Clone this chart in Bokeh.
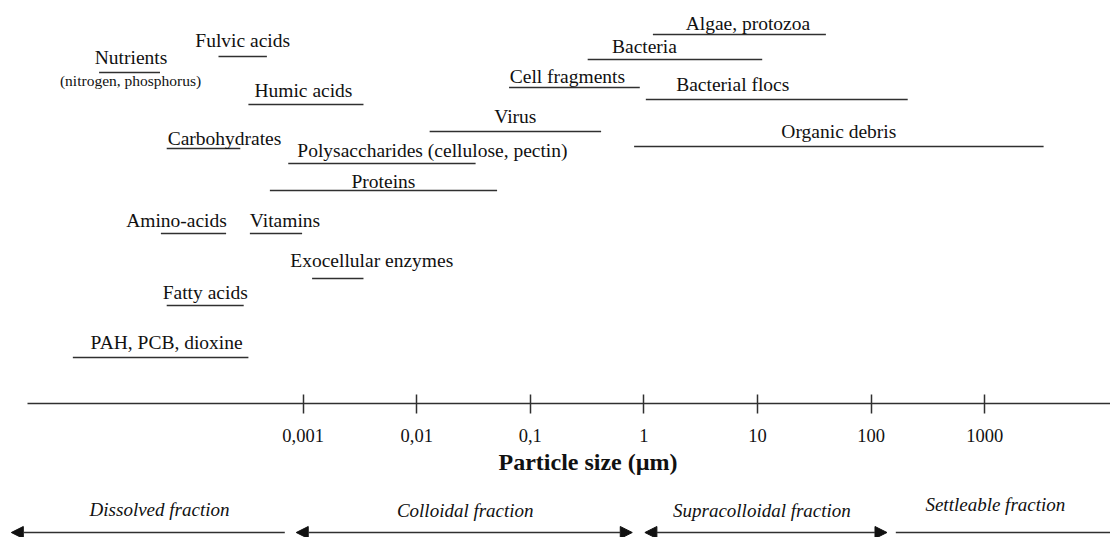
import numpy as np
from bokeh.plotting import figure
from bokeh.models import (ColumnDataSource, Range1d, FixedTicker, Arrow, NormalHead,
                          Title, CustomJSTickFormatter)
from bokeh.core.properties import value
from bokeh.layouts import column
from bokeh.embed import file_html
from bokeh.resources import INLINE

# ---------------- data ----------------
names = ["Algae, protozoa", "Bacteria", "Cell fragments", "Bacterial flocs", "Virus",
         "Organic debris", "Fulvic acids", "Nutrients", "Humic acids", "Carbohydrates",
         "Polysaccharides (cellulose, pectin)", "Proteins", "Amino-acids", "Vitamins",
         "Exocellular enzymes", "Fatty acids", "PAH, PCB, dioxine"]
size_min = [1.2, 0.32, 0.065, 1.04, 0.013, 0.82, 1.8e-4, 1.6e-5, 3.3e-4, 6.3e-5,
            7.4e-4, 5.1e-4, 5.6e-5, 3.4e-4, 1.2e-3, 6.3e-5, 9.4e-6]   # µm
size_max = [40, 11, 0.92, 210, 0.42, 3300, 4.8e-4, 5.5e-5, 3.4e-3, 2.8e-4,
            0.033, 0.051, 2.1e-4, 9.8e-4, 3.4e-3, 3.0e-4, 3.3e-4]     # µm
sub_label = "(nitrogen, phosphorus)"

tick_values = [0.001, 0.01, 0.1, 1, 10, 100, 1000]

fractions = ["Dissolved fraction", "Colloidal fraction", "Supracolloidal fraction",
             "Settleable fraction"]
frac_min = [2.7e-6, 8.7e-4, 1.02, 165]
frac_max = [6.9e-4, 0.79, 138, 14000]

# ---------------- layout (positions / styles) ----------------
row_y = [34, 59, 87, 99, 131, 146, 56, 72, 104, 148, 163, 190, 233, 233, 278, 305, 357]
label_baseline = [29.5, 53, 83, 91, 123, 138, 47, 64, 97, 145, 157, 188, 227, 227,
                  267, 299, 348.5]
label_dx = [8.5, -30.5, -7, -44, 0, 0, 0, 1.5, -2.5, 21, 50.5, 0, -17, 9, 34, 0, 6]
frac_heads = ["start", "both", "both", "none"]
frac_label_dx = [11.5, 1, -4, -10]
frac_label_baseline = [516, 517, 517, 511]
BASELINE_FIX = 7          # renderer draws alphabetic baseline this much lower

PX_PER_DECADE = 113.6
X_ONE = 643.4


def um_at(px):
    return 10 ** ((px - X_ONE) / PX_PER_DECADE)


FONT = "Liberation Serif"
TXT = "#111111"
LINE = "#303030"

# ---------------- top figure ----------------
top = figure(width=1110, height=483, x_axis_type="log",
             x_range=Range1d(um_at(27), um_at(1110)), y_range=Range1d(403, 0),
             output_backend="svg", toolbar_location=None, y_axis_location=None,
             min_border_left=27, min_border_right=0, min_border_top=0,
             min_border_bottom=80, frame_align=False)
top.outline_line_color = None
top.xgrid.visible = False
top.ygrid.visible = False
top.background_fill_color = "white"

mid = [np.sqrt(a * b) for a, b in zip(size_min, size_max)]
src = ColumnDataSource(dict(name=names, x0=size_min, x1=size_max, y=row_y, mid=mid,
                            ly=[b - BASELINE_FIX for b in label_baseline], dx=label_dx))
top.segment(x0="x0", y0="y", x1="x1", y1="y", source=src, line_width=1.6,
            line_color=LINE)
top.text(x="mid", y="ly", text="name", x_offset="dx", source=src,
         text_font=value(FONT), text_font_size="19.5px", text_color=TXT,
         text_align="center", text_baseline="alphabetic")

i_nut = names.index("Nutrients")
sub = ColumnDataSource(dict(x=[mid[i_nut]], y=[87 - BASELINE_FIX], t=[sub_label]))
top.text(x="x", y="y", text="t", x_offset=1, source=sub, text_font=value(FONT),
         text_font_size="15.5px", text_color=TXT, text_align="center",
         text_baseline="alphabetic")

ax = top.xaxis[0]
ax.ticker = FixedTicker(ticks=tick_values, minor_ticks=[])
ax.formatter = CustomJSTickFormatter(code="return String(tick).replace('.', ',');")
ax.major_tick_in = 9
ax.major_tick_out = 10
ax.minor_tick_line_color = None
ax.axis_line_width = 1.5
ax.axis_line_color = LINE
ax.major_tick_line_width = 1.5
ax.major_tick_line_color = LINE
ax.major_label_text_font = FONT
ax.major_label_text_font_size = "18.5px"
ax.major_label_text_color = TXT
ax.major_label_standoff = 15

top.add_layout(Title(text="Particle size  (µm)", align="left", offset=471,
                     text_font=FONT, text_font_size="24px", text_font_style="bold",
                     text_color=TXT, standoff=4), "below")

# ---------------- bottom figure (fractions) ----------------
bot = figure(width=1110, height=54, x_axis_type="log",
             x_range=Range1d(um_at(0), um_at(1110)), y_range=Range1d(537, 483),
             output_backend="svg", toolbar_location=None, x_axis_location=None,
             y_axis_location=None, min_border=0, frame_align=False)
bot.outline_line_color = None
bot.xgrid.visible = False
bot.ygrid.visible = False

ARROW_Y = 532
for lo, hi, h in zip(frac_min, frac_max, frac_heads):
    kw = dict(x_start=lo, y_start=ARROW_Y, x_end=hi, y_end=ARROW_Y,
              line_width=1.6, line_color=LINE, start=None, end=None)
    if h in ("start", "both"):
        kw["start"] = NormalHead(size=12, fill_color="#111111", line_color="#111111")
    if h == "both":
        kw["end"] = NormalHead(size=12, fill_color="#111111", line_color="#111111")
    bot.add_layout(Arrow(**kw))

fmid = [np.sqrt(a * b) for a, b in zip(frac_min, frac_max)]
fsrc = ColumnDataSource(dict(x=fmid, y=[b - BASELINE_FIX for b in frac_label_baseline],
                             t=fractions, dx=frac_label_dx))
bot.text(x="x", y="y", text="t", x_offset="dx", source=fsrc, text_font=value(FONT),
         text_font_size="19px", text_font_style="italic", text_color=TXT,
         text_align="center", text_baseline="alphabetic")

layout = column(top, bot, spacing=0)
open("out.html", "w").write(file_html(layout, INLINE))
